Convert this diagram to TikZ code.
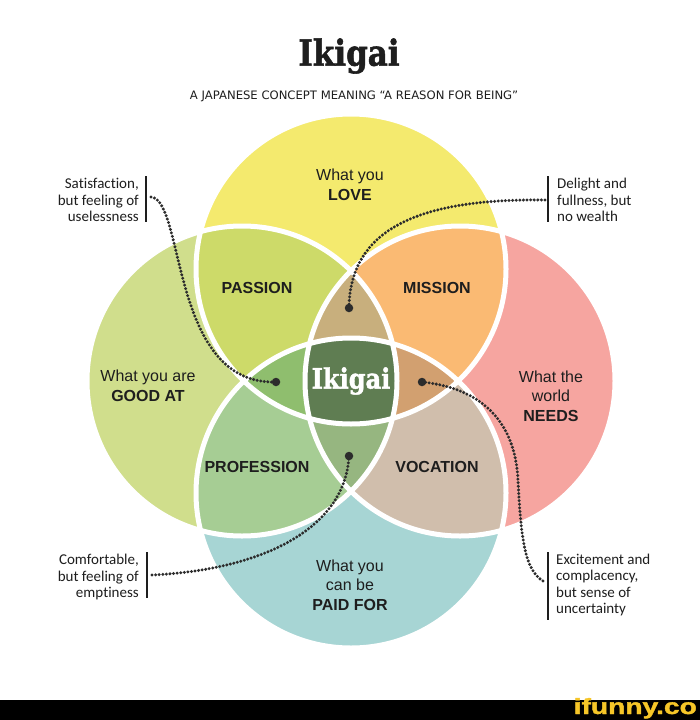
\documentclass[tikz,border=0pt]{standalone}
\usepackage{fontspec}
\setmainfont{Liberation Sans}
\newfontfamily\annfont{Carlito}[Ligatures=NoCommon]
\newfontfamily\subfont{DejaVu Sans}
\newfontfamily\slabfont{DejaVu Serif}[BoldFeatures={FakeBold=1.6}]
\newfontfamily\logofont{Liberation Sans}[BoldFeatures={FakeBold=1.5}]
\definecolor{cT}{HTML}{F4EA6E}
\definecolor{cL}{HTML}{D0DE8C}
\definecolor{cR}{HTML}{F6A5A0}
\definecolor{cB}{HTML}{A7D5D4}
\definecolor{cTL}{HTML}{CDDA69}
\definecolor{cTR}{HTML}{FABA73}
\definecolor{cLB}{HTML}{A6CD94}
\definecolor{cRB}{HTML}{D0BEAC}
\definecolor{cTLR}{HTML}{C8AF7D}
\definecolor{cTLB}{HTML}{8FBE6E}
\definecolor{cTRB}{HTML}{D2A070}
\definecolor{cLRB}{HTML}{96B680}
\definecolor{cQ}{HTML}{5F7D52}
\definecolor{txtc}{HTML}{1E1E1E}
\definecolor{dotc}{HTML}{2C2C2C}
\definecolor{logoc}{HTML}{F6C628}
\def\cTop{(351,269) circle (155pt)}
\def\cLeft{(242,381) circle (155pt)}
\def\cRight{(460,381) circle (155pt)}
\def\cBot{(351,493) circle (155pt)}
\begin{document}
\begin{tikzpicture}[x=1pt,y=-1pt,
  txt/.style={inner sep=0pt, text=txtc, font=\fontsize{16}{19.5}\selectfont, align=center},
  ann/.style={inner sep=0pt, text=txtc, font=\annfont\fontsize{15}{16.6}\selectfont},
  bar/.style={draw=txtc, line width=1.8pt},
  dotline/.style={draw=dotc, line width=3.3pt, line cap=round, dash pattern=on 0pt off 3.6pt},
  dotend/.style={circle, fill=dotc, inner sep=0pt, minimum size=8.5pt},
  border/.style={draw=white, line width=5pt}]
\useasboundingbox (0,0) rectangle (700,720);
\fill[white] (0,0) rectangle (700,720);
% circles
\fill[cT] \cTop;
\fill[cL] \cLeft;
\fill[cR] \cRight;
\fill[cB] \cBot;
% pairs
\begin{scope}\clip \cTop; \fill[cTL] \cLeft; \end{scope}
\begin{scope}\clip \cTop; \fill[cTR] \cRight; \end{scope}
\begin{scope}\clip \cBot; \fill[cLB] \cLeft; \end{scope}
\begin{scope}\clip \cBot; \fill[cRB] \cRight; \end{scope}
% triples
\begin{scope}\clip \cTop; \clip \cLeft; \fill[cTLR] \cRight; \end{scope}
\begin{scope}\clip \cTop; \clip \cLeft; \fill[cTLB] \cBot; \end{scope}
\begin{scope}\clip \cTop; \clip \cRight; \fill[cTRB] \cBot; \end{scope}
\begin{scope}\clip \cLeft; \clip \cRight; \fill[cLRB] \cBot; \end{scope}
% all four
\begin{scope}\clip \cTop; \clip \cLeft; \clip \cRight; \fill[cQ] \cBot; \end{scope}
% white borders
\draw[border] \cTop;
\draw[border] \cLeft;
\draw[border] \cRight;
\draw[border] \cBot;
% title
\node[inner sep=0pt, text=txtc, font=\slabfont\bfseries\fontsize{36}{36}\selectfont] (title) at (349,56) {\scalebox{0.86}[1]{Ikigai}};
\node[inner sep=0pt, text=txtc, font=\subfont\fontsize{12}{13}\selectfont] (sub) at (354,96) {\resizebox{328pt}{!}{A JAPANESE CONCEPT MEANING “A REASON FOR BEING”}};
% circle labels
\node[txt] (love) at (350,185) {What you\\\textbf{LOVE}};
\node[txt] (good) at (148,386) {What you are\\\textbf{GOOD AT}};
\node[txt] (needs) at (551,396) {What the\\world\\\textbf{NEEDS}};
\node[txt] (paid) at (350,585) {What you\\can be\\\textbf{PAID FOR}};
\node[txt, font=\bfseries\fontsize{16}{19.5}\selectfont] (passion) at (257,288) {PASSION};
\node[txt, font=\bfseries\fontsize{16}{19.5}\selectfont] (mission) at (437,288) {MISSION};
\node[txt, font=\bfseries\fontsize{16}{19.5}\selectfont] (profession) at (257,467) {PROFESSION};
\node[txt, font=\bfseries\fontsize{16}{19.5}\selectfont] (vocation) at (437,467) {VOCATION};
\node[inner sep=0pt, text=white, font=\slabfont\bfseries\fontsize{28}{28}\selectfont] (ikigai) at (351,381) {\scalebox{0.86}[1]{Ikigai}};
% annotations
\node[ann, anchor=east, align=right] (a1) at (139,200) {Satisfaction,\\but feeling of\\uselessness};
\node[ann, anchor=west, align=left] (a2) at (557,200) {Delight and\\fullness, but\\no wealth};
\node[ann, anchor=east, align=right] (a3) at (139,577) {Comfortable,\\but feeling of\\emptiness};
\node[ann, anchor=west, align=left] (a4) at (556,585) {Excitement and\\complacency,\\but sense of\\uncertainty};
\draw[bar] (146,176) -- (146,222);
\draw[bar] (548,176) -- (548,222);
\draw[bar] (147,552) -- (147,598);
\draw[bar] (548,552) -- (548,620);
% dots and dotted connectors
\node[dotend] (d1) at (276,382) {};
\node[dotend] (d2) at (349,308) {};
\node[dotend] (d3) at (349,456) {};
\node[dotend] (d4) at (422,382) {};
\coordinate (s1) at (151,197);
\coordinate (s2) at (545,200);
\coordinate (s3) at (152,575);
\coordinate (s4) at (543,581);
\draw[dotline] (s1) .. controls (185,200) and (170,385) .. (d1.center);
\draw[dotline] (s2) .. controls (400,198) and (350,240) .. (d2.center);
\draw[dotline] (s3) .. controls (260,570) and (345,530) .. (d3.center);
\draw[dotline] (d4.center) .. controls (480,388) and (515,420) .. (518,480) .. controls (521,540) and (525,570) .. (s4);
% bottom bar
\fill[black] (0,700) rectangle (700,720);
\node[anchor=base east, inner sep=0pt, text=logoc, font=\logofont\bfseries\fontsize{22}{22}\selectfont] (logo) at (697,714) {\scalebox{1.28}[1]{ifunny.co}};
\end{tikzpicture}
\end{document}
